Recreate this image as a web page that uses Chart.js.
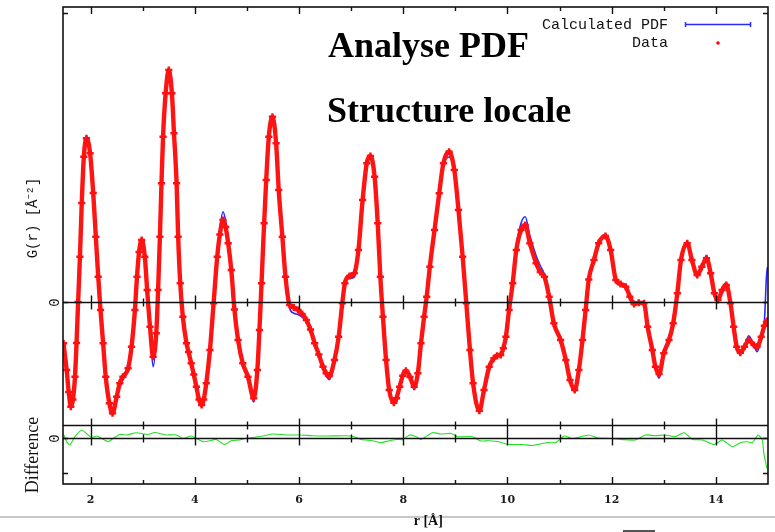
<!DOCTYPE html>
<html>
<head>
<meta charset="utf-8">
<script src="https://cdn.jsdelivr.net/npm/chart.js@4/dist/chart.umd.min.js"></script>
<style>
  html, body { margin: 0; padding: 0; background: #ffffff; }
  #wrap { position: relative; width: 775px; height: 532px; }
  canvas { display: block; }
</style>
</head>
<body>
<div id="wrap"><canvas id="c" width="775" height="532"></canvas></div>
<script>
// ---------------- data ----------------
const rValues = [
  1.48,1.54,1.58,1.62,1.66,1.70,1.73,1.76,1.795,1.83,
  1.87,1.92,1.99,2.05,2.10,2.146,2.19,2.24,2.29,2.36,
  2.42,2.50,2.56,2.62,2.72,2.785,2.85,2.89,2.93,2.98,
  3.04,3.085,3.14,3.20,3.26,3.295,3.33,3.36,3.39,3.44,
  3.50,3.56,3.60,3.65,3.68,3.72,3.77,3.84,3.88,3.93,
  3.98,4.03,4.08,4.13,4.17,4.22,4.29,4.36,4.43,4.48,
  4.54,4.59,4.64,4.70,4.76,4.83,4.92,5.02,5.13,5.20,
  5.24,5.28,5.33,5.37,5.42,5.49,5.56,5.61,5.68,5.74,
  5.82,5.90,5.98,6.06,6.14,6.22,6.30,6.38,6.46,6.52,
  6.58,6.68,6.76,6.83,6.88,6.97,7.06,7.14,7.22,7.30,
  7.37,7.45,7.51,7.56,7.61,7.67,7.73,7.82,7.87,7.93,
  7.99,8.05,8.13,8.21,8.28,8.34,8.40,8.45,8.51,8.60,
  8.69,8.77,8.88,8.98,9.06,9.14,9.21,9.28,9.34,9.46,
  9.55,9.65,9.74,9.80,9.87,9.92,9.97,10.03,10.10,10.17,
  10.26,10.34,10.43,10.55,10.63,10.71,10.80,10.89,11.02,11.12,
  11.20,11.29,11.37,11.44,11.50,11.56,11.66,11.75,11.88,11.98,
  12.08,12.17,12.27,12.35,12.43,12.52,12.62,12.69,12.78,12.84,
  12.91,13.00,13.10,13.18,13.26,13.33,13.45,13.54,13.64,13.73,
  13.82,13.90,13.97,14.04,14.12,14.20,14.28,14.34,14.40,14.47,
  14.55,14.63,14.73,14.79,14.87,14.93,14.97,14.99
];
const gObserved = [
  -1.65,-2.72,-3.60,-4.19,-3.90,-2.99,-1.64,0.00,1.81,3.96,
  5.81,6.55,5.95,4.36,2.61,1.01,-0.32,-1.65,-2.99,-4.05,
  -4.45,-3.79,-3.25,-2.99,-2.65,-1.79,-0.32,1.01,2.00,2.48,
  1.81,0.48,-0.99,-2.19,-1.25,0.48,2.61,4.75,6.61,8.35,
  9.28,8.35,6.75,4.75,2.61,0.75,-0.59,-1.65,-2.00,-2.45,
  -2.90,-3.39,-3.90,-4.12,-3.90,-3.25,-1.92,-0.05,1.81,2.70,
  3.28,3.00,2.35,1.28,-0.30,-1.52,-2.45,-2.99,-3.85,-2.72,
  -1.12,0.75,3.15,4.88,6.61,7.41,6.35,4.48,2.61,1.01,
  -0.12,-0.22,-0.32,-0.48,-0.72,-1.10,-1.65,-2.10,-2.59,-2.85,
  -2.96,-2.32,-1.39,-0.05,0.75,1.04,1.15,2.08,4.08,5.55,
  5.84,5.01,3.15,1.01,-0.59,-2.32,-3.52,-4.03,-3.85,-3.39,
  -2.95,-2.75,-3.00,-3.39,-2.85,-1.65,-0.59,0.21,1.41,2.88,
  4.35,5.55,6.01,5.28,3.68,1.81,-0.05,-1.92,-3.25,-4.35,
  -3.52,-2.59,-2.25,-2.15,-2.12,-1.85,-1.39,-0.32,0.75,2.08,
  2.88,3.08,2.35,1.55,1.20,1.01,0.21,-0.85,-1.52,-2.32,
  -3.12,-3.52,-2.72,-1.52,-0.32,0.90,1.68,2.35,2.64,2.08,
  0.88,0.72,0.61,0.21,-0.08,-0.03,-0.05,-0.99,-1.92,-2.59,
  -2.88,-2.05,-1.52,-0.85,0.35,1.68,2.35,1.68,1.08,1.41,
  1.75,1.15,0.35,0.08,0.48,0.68,-0.05,-0.99,-1.79,-2.03,
  -1.79,-1.52,-1.72,-1.79,-1.39,-0.95,-0.80,-0.75
];
const gCalculated = [
  -1.65,-2.72,-3.55,-4.05,-3.85,-2.99,-1.64,0.00,1.81,3.96,
  5.75,6.40,5.95,4.36,2.61,1.01,-0.32,-1.65,-2.99,-4.05,
  -4.40,-3.79,-3.40,-3.10,-2.70,-1.79,-0.32,1.01,2.00,2.48,
  1.81,0.48,-1.10,-2.59,-1.35,0.48,2.61,4.75,6.61,8.35,
  9.20,8.35,6.75,4.75,2.61,0.75,-0.59,-1.65,-2.00,-2.45,
  -2.90,-3.39,-3.90,-4.12,-3.90,-3.25,-1.92,-0.05,1.90,2.90,
  3.61,3.25,2.45,1.28,-0.30,-1.52,-2.45,-3.05,-4.00,-2.72,
  -1.12,0.75,3.15,4.88,6.61,7.30,6.35,4.48,2.61,1.01,
  -0.25,-0.45,-0.50,-0.60,-0.78,-1.15,-1.70,-2.15,-2.65,-2.95,
  -3.10,-2.40,-1.39,-0.05,0.75,0.95,1.00,2.08,4.08,5.55,
  5.75,5.01,3.15,1.01,-0.59,-2.32,-3.52,-4.03,-3.85,-3.39,
  -2.95,-2.80,-3.05,-3.50,-2.85,-1.65,-0.59,0.21,1.41,2.88,
  4.35,5.45,5.80,5.20,3.68,1.81,-0.05,-1.92,-3.25,-4.35,
  -3.52,-2.59,-2.25,-2.10,-2.05,-1.80,-1.39,-0.32,0.75,2.20,
  3.15,3.41,2.65,1.85,1.45,1.10,0.21,-0.85,-1.52,-2.32,
  -3.12,-3.52,-2.72,-1.52,-0.32,0.90,1.68,2.35,2.64,2.08,
  0.88,0.72,0.61,0.21,-0.08,-0.03,-0.05,-0.99,-1.92,-2.65,
  -3.05,-2.10,-1.52,-0.85,0.35,1.68,2.35,1.68,1.08,1.45,
  1.85,1.20,0.35,0.08,0.55,0.78,-0.05,-0.99,-1.79,-2.03,
  -1.75,-1.35,-1.75,-1.99,-1.50,-0.80,1.00,1.40
];
const rDiff = [
  1.49,1.54,1.60,1.70,1.83,1.92,2.02,2.12,2.21,2.34,
  2.43,2.56,2.69,2.88,3.01,3.10,3.23,3.33,3.46,3.65,
  3.77,3.93,4.03,4.16,4.29,4.41,4.57,4.70,4.86,4.96,
  5.11,5.31,5.50,5.76,6.01,6.26,6.52,6.90,7.06,7.19,
  7.41,7.57,7.73,7.86,7.99,8.12,8.25,8.34,8.56,8.72,
  8.92,9.04,9.33,9.49,9.65,9.84,10.00,10.29,10.48,10.74,
  10.93,11.09,11.25,11.56,11.72,11.99,12.18,12.45,12.65,12.84,
  13.03,13.22,13.39,13.55,13.74,13.97,14.12,14.32,14.47,14.60,
  14.70,14.81,14.89,14.92,14.98
];
const gDifference = [
  0.11,-0.16,-0.29,0.04,0.31,0.17,0.01,0.07,-0.03,-0.16,
  -0.03,0.13,0.11,0.20,0.15,0.13,0.21,0.17,0.11,0.11,
  -0.03,0.07,-0.03,-0.16,-0.12,-0.07,-0.27,-0.12,-0.09,-0.03,
  0.01,0.07,0.15,0.11,0.11,0.08,0.07,0.08,0.04,-0.07,
  -0.12,-0.20,-0.12,-0.07,-0.07,0.11,0.04,-0.07,0.20,0.15,
  0.17,0.04,0.04,-0.13,-0.12,-0.16,-0.27,-0.27,-0.31,-0.20,
  -0.19,0.07,-0.03,0.11,0.00,-0.03,-0.07,-0.09,0.11,0.08,
  0.11,0.04,0.20,-0.07,-0.09,-0.27,-0.09,-0.36,-0.20,-0.16,
  -0.20,0.11,-0.09,-0.63,-1.23
];
const xMajorTicks = [2, 4, 6, 8, 10, 12, 14];
const xMinorTicks = [3, 5, 7, 9, 11, 13];
const gAxisTicks = [0, 11.56];
const diffAxisTicks = [0, -1.41];
const xTitle = 'r [\u00C5]';
const gTitle = 'G(r) [\u00C5\u207B\u00B2]';
const diffTitle = 'Difference';
const legendLabels = ['Calculated PDF', 'Data'];
const overlayLines = ['Analyse PDF', 'Structure locale'];

// ---------------- decorations plugin ----------------
const frame = {
  id: 'frame',
  afterDatasetsDraw(chart) {
    const ctx = chart.ctx;
    const a = chart.chartArea;
    const X = chart.scales.x, YG = chart.scales.yG, YD = chart.scales.yD;
    const zG = Math.round(YG.getPixelForValue(0)) + 0.5;
    const zD = Math.round(YD.getPixelForValue(0)) + 0.5;
    const split = Math.round(YG.getPixelForValue(-4.9)) + 0.5;
    ctx.save();
    ctx.strokeStyle = '#111';
    ctx.lineWidth = 1.6;
    ctx.strokeRect(a.left, a.top, a.right - a.left, a.bottom - a.top);
    ctx.beginPath();
    [split, zG, zD].forEach(y => { ctx.moveTo(a.left, y); ctx.lineTo(a.right, y); });
    ctx.stroke();
    ctx.lineWidth = 1.4;
    ctx.beginPath();
    const tick = (v, len) => {
      const x = Math.round(X.getPixelForValue(v)) + 0.5;
      ctx.moveTo(x, a.top); ctx.lineTo(x, a.top + len);
      [zG, split, zD].forEach(y => { ctx.moveTo(x, y - len); ctx.lineTo(x, y + len); });
      ctx.moveTo(x, a.bottom); ctx.lineTo(x, a.bottom - len);
    };
    xMajorTicks.forEach(v => tick(v, 7));
    xMinorTicks.forEach(v => tick(v, 4));
    const ytick = (y) => {
      ctx.moveTo(a.left, y); ctx.lineTo(a.left + 5, y);
      ctx.moveTo(a.right, y); ctx.lineTo(a.right - 5, y);
    };
    gAxisTicks.forEach(v => ytick(Math.round(YG.getPixelForValue(v)) + 0.5));
    diffAxisTicks.forEach(v => ytick(Math.round(YD.getPixelForValue(v)) + 0.5));
    ctx.stroke();

    ctx.fillStyle = '#1a1a1a';
    ctx.font = 'bold 11px "DejaVu Serif"';
    ctx.textAlign = 'center';
    ctx.textBaseline = 'middle';
    xMajorTicks.forEach(v => ctx.fillText(String(v), X.getPixelForValue(v), a.bottom + 16));

    ctx.fillStyle = '#c8c8c8';
    ctx.fillRect(0, 516, 775, 2);
    ctx.fillStyle = '#555';
    ctx.fillRect(623, 530, 32, 2);
    ctx.fillStyle = '#111';
    ctx.font = 'bold 14px "Liberation Serif"';
    ctx.fillText(xTitle, (X.getPixelForValue(8) + X.getPixelForValue(9)) / 2 - 1, 521);

    const rot = (text, x, y, font) => {
      ctx.save(); ctx.translate(x, y); ctx.rotate(-Math.PI / 2);
      ctx.font = font; ctx.textAlign = 'center'; ctx.textBaseline = 'middle';
      ctx.fillText(text, 0, 0); ctx.restore();
    };
    rot(gTitle, 33, 218, '14px "Liberation Mono"');
    rot('0', 55, zG, '14px "Liberation Mono"');
    rot('0', 55, zD, '14px "Liberation Mono"');
    rot(diffTitle, 33, 455, '18px "Liberation Serif"');

    ctx.font = '15px "Liberation Mono"';
    ctx.textAlign = 'right';
    ctx.textBaseline = 'alphabetic';
    ctx.fillStyle = '#111';
    ctx.fillText(legendLabels[0], 668, 29);
    ctx.fillText(legendLabels[1], 668, 47);
    ctx.strokeStyle = '#2a2aff';
    ctx.lineWidth = 1.5;
    ctx.beginPath();
    ctx.moveTo(685, 24.5); ctx.lineTo(751, 24.5);
    ctx.moveTo(685.5, 22); ctx.lineTo(685.5, 27);
    ctx.moveTo(750.5, 22); ctx.lineTo(750.5, 27);
    ctx.stroke();
    ctx.fillStyle = '#ff0000';
    ctx.beginPath(); ctx.arc(718, 43, 1.8, 0, Math.PI * 2); ctx.fill();

    ctx.fillStyle = '#000';
    ctx.font = 'bold 36px "Liberation Serif"';
    ctx.textAlign = 'left';
    ctx.fillText(overlayLines[0], 328, 57);
    ctx.fillText(overlayLines[1], 327, 122);
    ctx.restore();
  }
};

new Chart(document.getElementById('c'), {
  type: 'line',
  data: {
    datasets: [
      {
        label: 'Data',
        data: rValues.map((r, i) => ({ x: r, y: gObserved[i] })),
        yAxisID: 'yG',
        showLine: true,
        borderColor: '#ff1414',
        borderWidth: 4.4,
        cubicInterpolationMode: 'monotone',
        pointStyle: 'cross',
        pointRadius: 3.6,
        pointBorderWidth: 2.5,
        pointBorderColor: '#ff1010',
        pointBackgroundColor: '#ff1010',
        order: 0
      },
      {
        label: 'Calculated PDF',
        data: rValues.map((r, i) => ({ x: r, y: gCalculated[i] })),
        yAxisID: 'yG',
        borderColor: '#2a2aff',
        borderWidth: 1.6,
        pointRadius: 0,
        cubicInterpolationMode: 'monotone',
        order: 1
      },
      {
        label: 'Difference',
        data: rDiff.map((r, i) => ({ x: r, y: gDifference[i] })),
        yAxisID: 'yD',
        borderColor: '#22e022',
        borderWidth: 1.1,
        pointRadius: 0,
        tension: 0.2,
        order: 2
      }
    ]
  },
  options: {
    responsive: false,
    animation: false,
    devicePixelRatio: 1,
    layout: { padding: { left: 63, right: 7, top: 7, bottom: 48 } },
    plugins: { legend: { display: false }, tooltip: { enabled: false } },
    scales: {
      x: { type: 'linear', min: 1.47, max: 15.0, display: false },
      yG: { type: 'linear', min: -7.28, max: 11.8, display: false },
      yD: { type: 'linear', min: -1.852, max: 17.228, display: false }
    }
  },
  plugins: [frame]
});
</script>
</body>
</html>
